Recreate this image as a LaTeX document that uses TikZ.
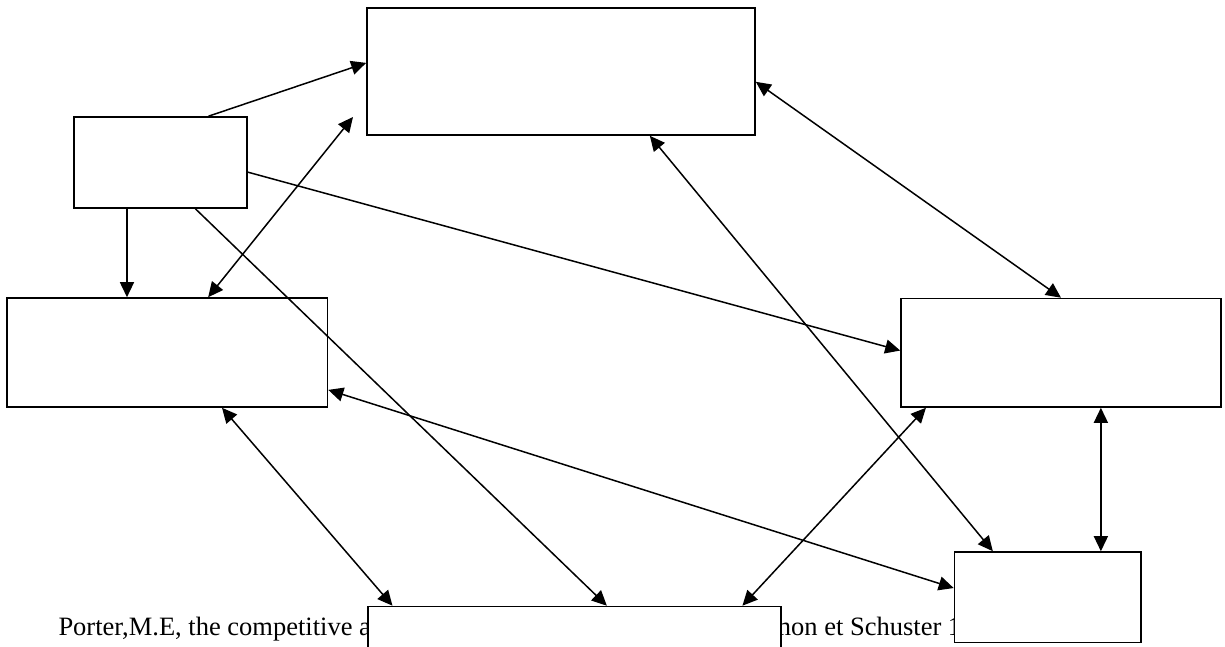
\documentclass[tikz,border=0pt]{standalone}
\usepackage{fontspec}
\setmainfont{Liberation Serif}
\usetikzlibrary{arrows.meta,calc}
\begin{document}
\begin{tikzpicture}[x=1pt,y=-1pt,
  box/.style={draw=black, fill=white, line width=1.6pt, inner sep=0pt},
  link/.style={line width=1.5pt, -{Triangle[length=15pt,width=14pt]}},
  blink/.style={line width=1.5pt, {Triangle[length=15pt,width=14pt]}-{Triangle[length=15pt,width=14pt]}}]
\useasboundingbox (0,0) rectangle (1225,646);
\clip (0,0) rectangle (1225,646);
\fill[white] (0,0) rectangle (1225,646);
\node[anchor=base west, inner sep=0pt, font=\fontsize{26.5}{30}\selectfont] (ref) at (58.3,635.7) {\makebox[690pt][l]{Porter,M.E, the competitive advantage of nations,}Simon et Schuster 1990};
\node[box, minimum width=173pt, minimum height=91pt] (A) at (160.5,162.5) {};
\node[box, minimum width=388pt, minimum height=127pt] (T) at (561,71.5) {};
\node[box, minimum width=320.5pt, minimum height=109pt] (L) at (167.25,352.5) {};
\node[box, minimum width=320pt, minimum height=108.5pt] (R) at (1061,352.75) {};
\node[box, minimum width=413pt, minimum height=120pt] (B) at (574.5,666.5) {};
\node[box, minimum width=186.5pt, minimum height=90.5pt] (S) at (1047.75,597.25) {};
\coordinate (f2) at (353,117);
\draw[link] ($(A.north west)!0.775!(A.north east)$) -- ($(T.north west)!0.433!(T.south west)$);
\draw[blink] ($(L.north west)!0.627!(L.north east)$) -- (f2);
\draw[link] ($(A.south west)!0.308!(A.south east)$) coordinate (a3) -- (a3 |- L.north);
\draw[link] ($(A.north east)!0.604!(A.south east)$) -- ($(R.north west)!0.48!(R.south west)$);
\draw[link] ($(A.south west)!0.70!(A.south east)$) -- ($(B.north west)!0.578!(B.north east)$);
\draw[blink] ($(T.north east)!0.58!(T.south east)$) -- (R.north);
\draw[blink] ($(T.south west)!0.728!(T.south east)$) -- ($(S.north west)!0.208!(S.north east)$);
\draw[blink] ($(L.south west)!0.67!(L.south east)$) -- ($(B.north west)!0.061!(B.north east)$);
\draw[blink] ($(L.north east)!0.838!(L.south east)$) -- ($(S.north west)!0.40!(S.south west)$);
\draw[blink] ($(R.south west)!0.08!(R.south east)$) -- ($(B.north west)!0.905!(B.north east)$);
\draw[blink] ($(R.south west)!0.624!(R.south east)$) coordinate (a11) -- (a11 |- S.north);
\end{tikzpicture}
\end{document}
